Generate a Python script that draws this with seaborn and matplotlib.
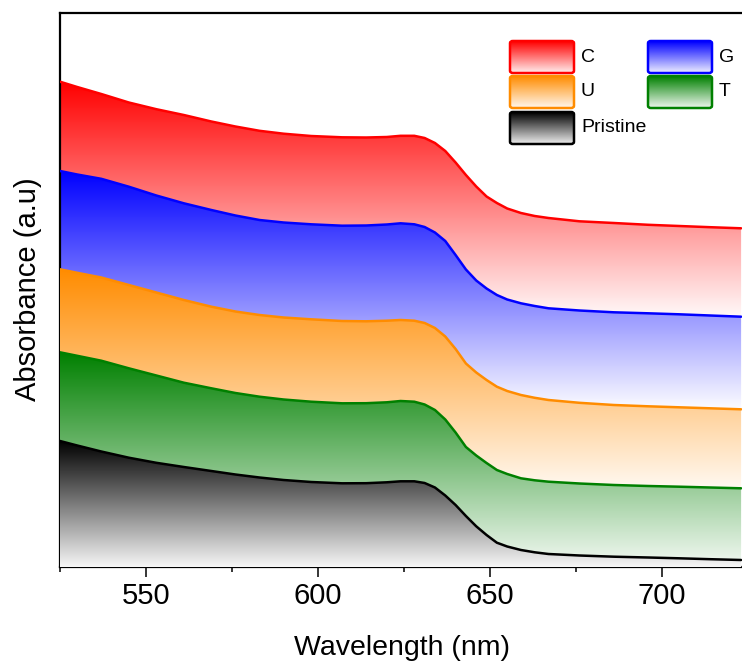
import matplotlib
matplotlib.use("Agg")
import matplotlib.pyplot as plt
from matplotlib.colors import to_rgb
from matplotlib.patches import FancyBboxPatch
from matplotlib.ticker import MultipleLocator, NullLocator
import numpy as np
import pandas as pd
import seaborn as sns

# wavelength grid (nm) and stacked absorbance (a.u.)
wavelength = [525, 530, 537, 545, 553, 561, 569, 576, 583, 590, 598, 607, 614, 620,
              624, 628, 631, 634, 637, 640, 643, 646, 649, 652, 655, 659, 663, 667,
              676, 686, 696, 705, 714, 723]

abs_c = [4.853, 4.80, 4.73, 4.645, 4.578, 4.52, 4.455, 4.405, 4.362, 4.333, 4.31, 4.297,
         4.295, 4.30, 4.312, 4.312, 4.29, 4.24, 4.16, 4.045, 3.92, 3.805, 3.705, 3.64,
         3.585, 3.54, 3.51, 3.49, 3.457, 3.44, 3.422, 3.41, 3.398, 3.387]
abs_g = [3.96, 3.925, 3.882, 3.803, 3.715, 3.637, 3.57, 3.515, 3.47, 3.445, 3.427, 3.413,
         3.415, 3.425, 3.437, 3.427, 3.40, 3.345, 3.26, 3.12, 2.975, 2.865, 2.785, 2.72,
         2.675, 2.637, 2.61, 2.587, 2.565, 2.547, 2.537, 2.527, 2.515, 2.503]
abs_u = [2.977, 2.942, 2.895, 2.82, 2.745, 2.67, 2.603, 2.555, 2.52, 2.495, 2.477, 2.46,
         2.457, 2.463, 2.47, 2.463, 2.44, 2.39, 2.305, 2.18, 2.035, 1.945, 1.87, 1.803,
         1.76, 1.72, 1.692, 1.67, 1.642, 1.62, 1.607, 1.597, 1.587, 1.577]
abs_t = [2.147, 2.112, 2.063, 1.987, 1.915, 1.843, 1.787, 1.74, 1.703, 1.675, 1.653, 1.637,
         1.638, 1.647, 1.66, 1.653, 1.625, 1.57, 1.475, 1.345, 1.20, 1.115, 1.04, 0.97,
         0.93, 0.887, 0.867, 0.853, 0.835, 0.82, 0.81, 0.803, 0.795, 0.787]
abs_pristine = [1.26, 1.215, 1.155, 1.093, 1.042, 1.00, 0.96, 0.925, 0.895, 0.87, 0.85, 0.837,
                0.838, 0.847, 0.857, 0.857, 0.84, 0.795, 0.715, 0.62, 0.51, 0.407, 0.32,
                0.243, 0.205, 0.17, 0.147, 0.13, 0.115, 0.103, 0.095, 0.087, 0.078, 0.07]

samples = ["C", "G", "U", "T", "Pristine"]
series = [abs_c, abs_g, abs_u, abs_t, abs_pristine]
colors = {"C": "#ff0000", "G": "#0000ff", "U": "#ff8c00", "T": "#008000", "Pristine": "#000000"}
# level (a.u.) where each gradient fill has faded to white
fade_to = {"C": 2.45, "G": 1.55, "U": 0.65, "T": -0.10, "Pristine": -0.05}

X_MIN, X_MAX = 525, 731.4
Y_TOP = 5.54


def gradient_fill(ax, x, y, color, fade, zorder):
    poly = ax.fill_between(x, y, 0, facecolor="none", edgecolor="none", zorder=zorder)
    top = max(y)
    levels = np.linspace(0, Y_TOP, 600)
    t = np.clip((top - levels) / (top - fade), 0, 1)[:, None]
    img = (1 - t) * np.array(to_rgb(color)) + t
    im = ax.imshow(img[:, None, :], extent=(x[0], x[-1], 0, Y_TOP), origin="lower",
                   aspect="auto", zorder=zorder, interpolation="bilinear")
    im.set_clip_path(poly.get_paths()[0], transform=ax.transData)


def legend_box(ax, px, py, label, color):
    # px/py: box top-left in figure pixels
    w, h = 64 / 710, 32 / 554
    x0 = (px - 60) / 710
    y0 = (567 - py) / 554 - h
    grad = np.linspace(0, 0.93, 60)[:, None]
    img = (1 - grad) * np.array(to_rgb(color)) + grad
    im = ax.imshow(img[:, None, :], extent=(x0, x0 + w, y0, y0 + h), transform=ax.transAxes,
                   aspect="auto", zorder=20, interpolation="bilinear")
    box = FancyBboxPatch((x0, y0), w, h, boxstyle="round,pad=0,rounding_size=0.004",
                         transform=ax.transAxes, facecolor="none", edgecolor=color,
                         linewidth=1.8, zorder=21)
    ax.add_patch(box)
    im.set_clip_path(box)
    ax.text(x0 + w + 7 / 710, y0 + h / 2, label, transform=ax.transAxes, ha="left",
            va="center", fontsize=14, color="black", zorder=22)


sns.set_style("ticks")
plt.rcParams["font.family"] = ["Liberation Sans", "DejaVu Sans"]

df = pd.concat(
    [pd.DataFrame({"wavelength": wavelength, "absorbance": s, "sample": n})
     for n, s in zip(samples, series)],
    ignore_index=True,
)

fig = plt.figure(figsize=(7.42, 6.66), dpi=100)
ax = fig.add_axes([60 / 742, 99 / 666, 710 / 742, 554 / 666])

for i, (name, vals) in enumerate(zip(samples, series)):
    gradient_fill(ax, np.array(wavelength, float), np.array(vals), colors[name],
                  fade_to[name], zorder=1 + i)

sns.lineplot(data=df, x="wavelength", y="absorbance", hue="sample", hue_order=samples,
             palette=colors, linewidth=1.8, legend=False, ax=ax, zorder=10)

ax.set_xlim(X_MIN, X_MAX)
ax.set_ylim(0, Y_TOP)
ax.xaxis.set_major_locator(MultipleLocator(50))
ax.xaxis.set_minor_locator(MultipleLocator(25))
ax.yaxis.set_major_locator(NullLocator())
ax.tick_params(axis="x", which="major", direction="out", length=7, width=1.1,
               labelsize=21, pad=4, color="black", labelcolor="black")
ax.tick_params(axis="x", which="minor", direction="out", length=3.5, width=1.1, color="black")
for side in ["left", "bottom", "top"]:
    ax.spines[side].set_linewidth(1.6)
    ax.spines[side].set_color("black")
ax.spines["right"].set_visible(False)

ax.set_xlabel("Wavelength (nm)", fontsize=20.5, color="black")
ax.set_ylabel("Absorbance (a.u)", fontsize=21, color="black")
ax.xaxis.set_label_coords((401.5 - 60) / 710, -0.122)
ax.yaxis.set_label_coords(-0.026, 0.502)

legend_box(ax, 510, 41, "C", colors["C"])
legend_box(ax, 510, 76, "U", colors["U"])
legend_box(ax, 510, 112, "Pristine", colors["Pristine"])
legend_box(ax, 648, 41, "G", colors["G"])
legend_box(ax, 648, 76, "T", colors["T"])

fig.savefig("out.png", dpi=100)
